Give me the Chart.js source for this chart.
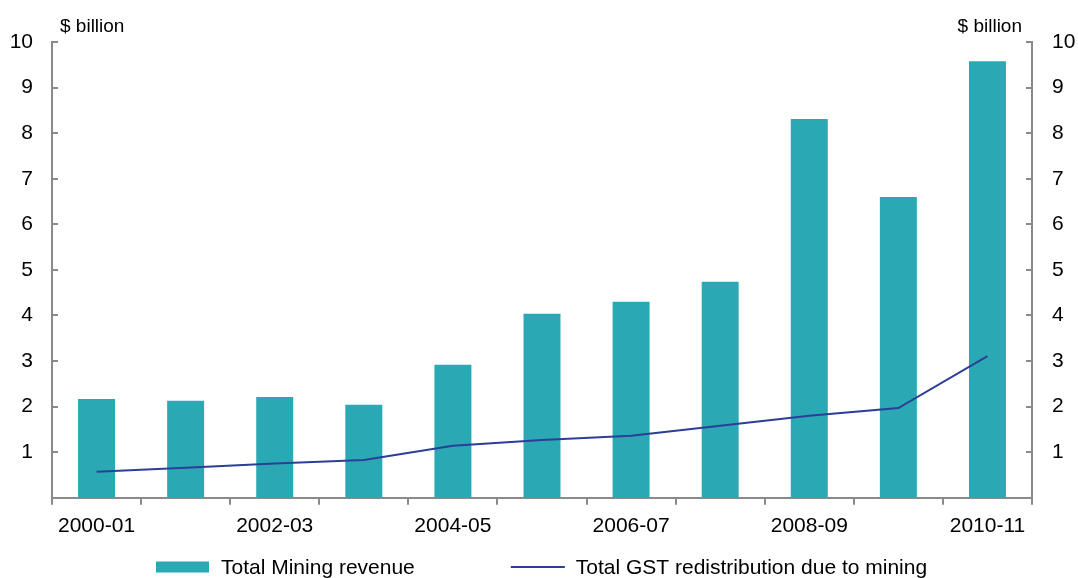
<!DOCTYPE html>
<html>
<head>
<meta charset="utf-8">
<script src="https://cdn.jsdelivr.net/npm/chart.js@4/dist/chart.umd.min.js"></script>
<style>
html,body{margin:0;padding:0;background:#fff;}
#wrap{width:1078px;height:578px;position:relative;}
</style>
</head>
<body>
<div id="wrap"><canvas id="c" width="1078" height="578"></canvas></div>
<script>
const categories = ["2000-01","2001-02","2002-03","2003-04","2004-05","2005-06","2006-07","2007-08","2008-09","2009-10","2010-11"];
const miningRevenue = [2.17, 2.13, 2.21, 2.04, 2.92, 4.04, 4.30, 4.74, 8.31, 6.60, 9.58];
const gstRedistribution = [0.57, 0.66, 0.75, 0.83, 1.14, 1.27, 1.36, 1.58, 1.80, 1.97, 3.11];
const yTickValues = [1,2,3,4,5,6,7,8,9,10];
const axisTitle = "$ billion";
const seriesNames = ["Total Mining revenue", "Total GST redistribution due to mining"];

const AXIS = '#8a8a8a';
const TEAL = '#2aa8b4';
const BLUE = '#2c3e97';
const FONT = 'Liberation Sans, Arial, sans-serif';

const tickPlugin = {
  id: 'tickmarks',
  afterDraw(chart) {
    const ctx = chart.ctx;
    const ca = chart.chartArea;
    const x = chart.scales.x, y = chart.scales.y, y1 = chart.scales.y1;
    ctx.save();
    ctx.strokeStyle = AXIS;
    ctx.lineWidth = 2;
    yTickValues.forEach(v => {
      const py = Math.round(y.getPixelForValue(v));
      ctx.beginPath(); ctx.moveTo(ca.left, py); ctx.lineTo(ca.left + 6, py); ctx.stroke();
      const py1 = Math.round(y1.getPixelForValue(v));
      ctx.beginPath(); ctx.moveTo(ca.right, py1); ctx.lineTo(ca.right - 6, py1); ctx.stroke();
    });
    const n = categories.length;
    const step = x.getPixelForValue(1) - x.getPixelForValue(0);
    for (let i = 0; i <= n; i++) {
      const px = Math.round(i < n ? x.getPixelForValue(i) - step / 2 : x.getPixelForValue(n - 1) + step / 2);
      ctx.beginPath(); ctx.moveTo(px, ca.bottom); ctx.lineTo(px, ca.bottom + 7); ctx.stroke();
    }
    // axis titles
    ctx.fillStyle = '#000';
    ctx.font = '19px ' + FONT;
    ctx.textBaseline = 'alphabetic';
    ctx.textAlign = 'left';
    ctx.fillText(axisTitle, ca.left + 8, 32);
    ctx.textAlign = 'right';
    ctx.fillText(axisTitle, ca.right - 10, 32);

    // legend
    const ly = 567;
    ctx.font = '21px ' + FONT;
    ctx.textBaseline = 'middle';
    ctx.textAlign = 'left';
    const w1 = ctx.measureText(seriesNames[0]).width;
    const w2 = ctx.measureText(seriesNames[1]).width;
    const gap = 96;
    const total = 53 + 12 + w1 + gap + 54 + 11 + w2;
    let lx = Math.round((chart.width - total) / 2) + 3;
    ctx.fillStyle = TEAL;
    ctx.fillRect(lx, ly - 5.5, 53, 11);
    ctx.fillStyle = '#000';
    ctx.fillText(seriesNames[0], lx + 65, ly + 1);
    lx += 65 + w1 + gap;
    ctx.strokeStyle = BLUE;
    ctx.lineWidth = 2;
    ctx.beginPath(); ctx.moveTo(lx, ly); ctx.lineTo(lx + 54, ly); ctx.stroke();
    ctx.fillText(seriesNames[1], lx + 65, ly + 1);
    ctx.restore();
  }
};

new Chart(document.getElementById('c'), {
  data: {
    labels: categories,
    datasets: [
      {
        type: 'bar',
        label: seriesNames[0],
        data: miningRevenue,
        backgroundColor: TEAL,
        borderWidth: 0,
        categoryPercentage: 1,
        barPercentage: 0.415,
        yAxisID: 'y',
        order: 2
      },
      {
        type: 'line',
        label: seriesNames[1],
        data: gstRedistribution,
        borderColor: BLUE,
        borderWidth: 2,
        pointRadius: 0,
        tension: 0,
        yAxisID: 'y1',
        order: 1
      }
    ]
  },
  options: {
    responsive: false,
    animation: false,
    devicePixelRatio: 1,
    layout: { padding: { top: 42, left: 0, right: 0, bottom: 23 } },
    plugins: {
      tooltip: { enabled: false },
      legend: { display: false }
    },
    scales: {
      x: {
        offset: true,
        grid: { display: false, drawTicks: false, offset: true },
        border: { display: true, color: AXIS, width: 2 },
        ticks: {
          color: '#000',
          font: { family: FONT, size: 21 },
          padding: 16,
          autoSkip: false,
          maxRotation: 0,
          callback(v, i) { return i % 2 === 0 ? categories[i] : ''; }
        }
      },
      y: {
        position: 'left',
        min: 0, max: 10,
        grid: { display: false, drawTicks: false },
        border: { display: true, color: AXIS, width: 2 },
        ticks: {
          stepSize: 1,
          color: '#000',
          font: { family: FONT, size: 21 },
          padding: 19,
          callback(v) { return yTickValues.includes(v) ? String(v) : ''; }
        },
        afterFit(s) { s.width = 52; }
      },
      y1: {
        position: 'right',
        min: 0, max: 10,
        grid: { display: false, drawTicks: false },
        border: { display: true, color: AXIS, width: 2 },
        ticks: {
          stepSize: 1,
          color: '#000',
          font: { family: FONT, size: 21 },
          padding: 20,
          callback(v) { return yTickValues.includes(v) ? String(v) : ''; }
        },
        afterFit(s) { s.width = 46; }
      }
    }
  },
  plugins: [tickPlugin]
});
</script>
</body>
</html>
